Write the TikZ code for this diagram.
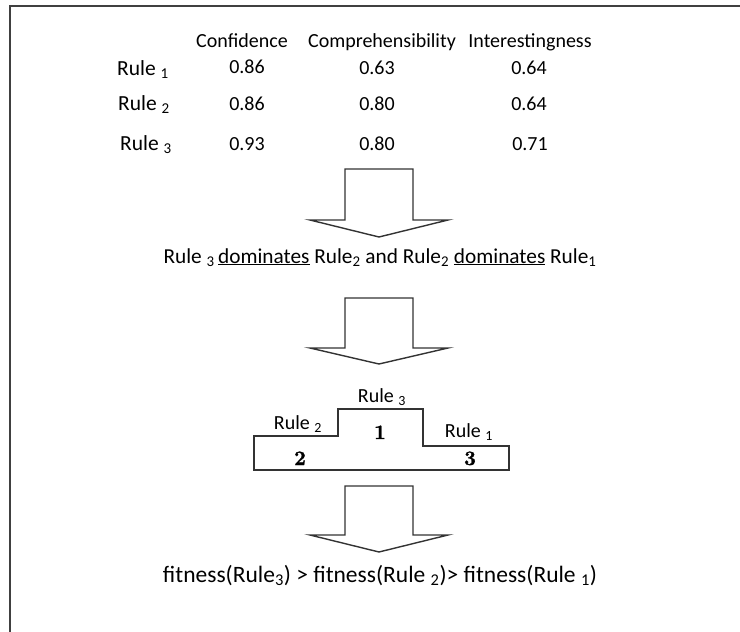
\documentclass[tikz,border=0pt]{standalone}
\usepackage[no-math]{fontspec}
\setmainfont{Carlito}
\newfontfamily\placefont{lmroman10-bold.otf}[FakeBold=1.2]
\newcommand{\rsub}[1]{\textsubscript{#1}}

\begin{document}
\begin{tikzpicture}[x=1pt,y=-1pt]
  \tikzstyle{every node}+=[inner sep=0pt, anchor=base, font=\fontsize{20}{24}\selectfont]
  \tikzstyle{rulelabel}=[font=\fontsize{21.5}{24}\selectfont]
  \tikzstyle{place}=[font=\placefont\fontsize{20.5}{22}\selectfont]
  \tikzstyle{bigarrow}=[draw=black!80, line width=1.4pt, fill=white, line join=miter]
  \useasboundingbox (0,0) rectangle (740,632);
  % frame
  \draw [black!75, line width=2pt] (10,632) -- (10,6) -- (740,6);
  % table
  \node (hconf) at (242,47) {Confidence};
  \node (hcomp) at (382,47) {Comprehensibility};
  \node (hint) at (530,47) {Interestingness};
  \node [rulelabel] (r1) at (143,75) {Rule \rsub{1}};
  \node [rulelabel] (r2) at (144,110) {Rule \rsub{2}};
  \node [rulelabel] (r3) at (146,150) {Rule \rsub{3}};
  \node (c1) at (247,73) {0.86};
  \node (p1) at (377,74) {0.63};
  \node (i1) at (529,74) {0.64};
  \node (c2) at (247,110) {0.86};
  \node (p2) at (377,110) {0.80};
  \node (i2) at (529,110) {0.64};
  \node (c3) at (247,150) {0.93};
  \node (p3) at (377,150) {0.80};
  \node (i3) at (530,150) {0.71};
  % block arrows
  \foreach \t/\s/\p in {169/220/237, 298/348/364, 486/535/552}
    \draw [bigarrow] (345,\t) -- (413,\t) -- (413,\s) -- (448,\s) -- (379,\p)
      -- (310,\s) -- (345,\s) -- cycle;
  % dominance
  \node [font=\fontsize{21.3}{24}\selectfont] (dom) at (380,263) {Rule \rsub{3}\,\underline{dominates} Rule\rsub{2} and
    Rule\rsub{2} \underline{dominates} Rule\rsub{1}};
  % podium
  \draw [black!80, line width=1.4pt] (254,470) -- (254,436) -- (338,436) -- (338,409)
    -- (423,409) -- (423,446) -- (509,446) -- (509,470) -- cycle;
  \node (pr3) at (382,402) {Rule \rsub{3}};
  \node (pr2) at (298,429) {Rule \rsub{2}};
  \node (pr1) at (469,437) {Rule \rsub{1}};
  \node [place] (n1) at (380,439) {1};
  \node [place] (n2) at (300,465) {2};
  \node [place] (n3) at (470,465) {3};
  % fitness
  \node [font=\fontsize{23.5}{26}\selectfont] (fit) at (380,582) {fitness(Rule\rsub{3}) > fitness(Rule \rsub{2})> fitness(Rule \rsub{1})};
\end{tikzpicture}
\end{document}
